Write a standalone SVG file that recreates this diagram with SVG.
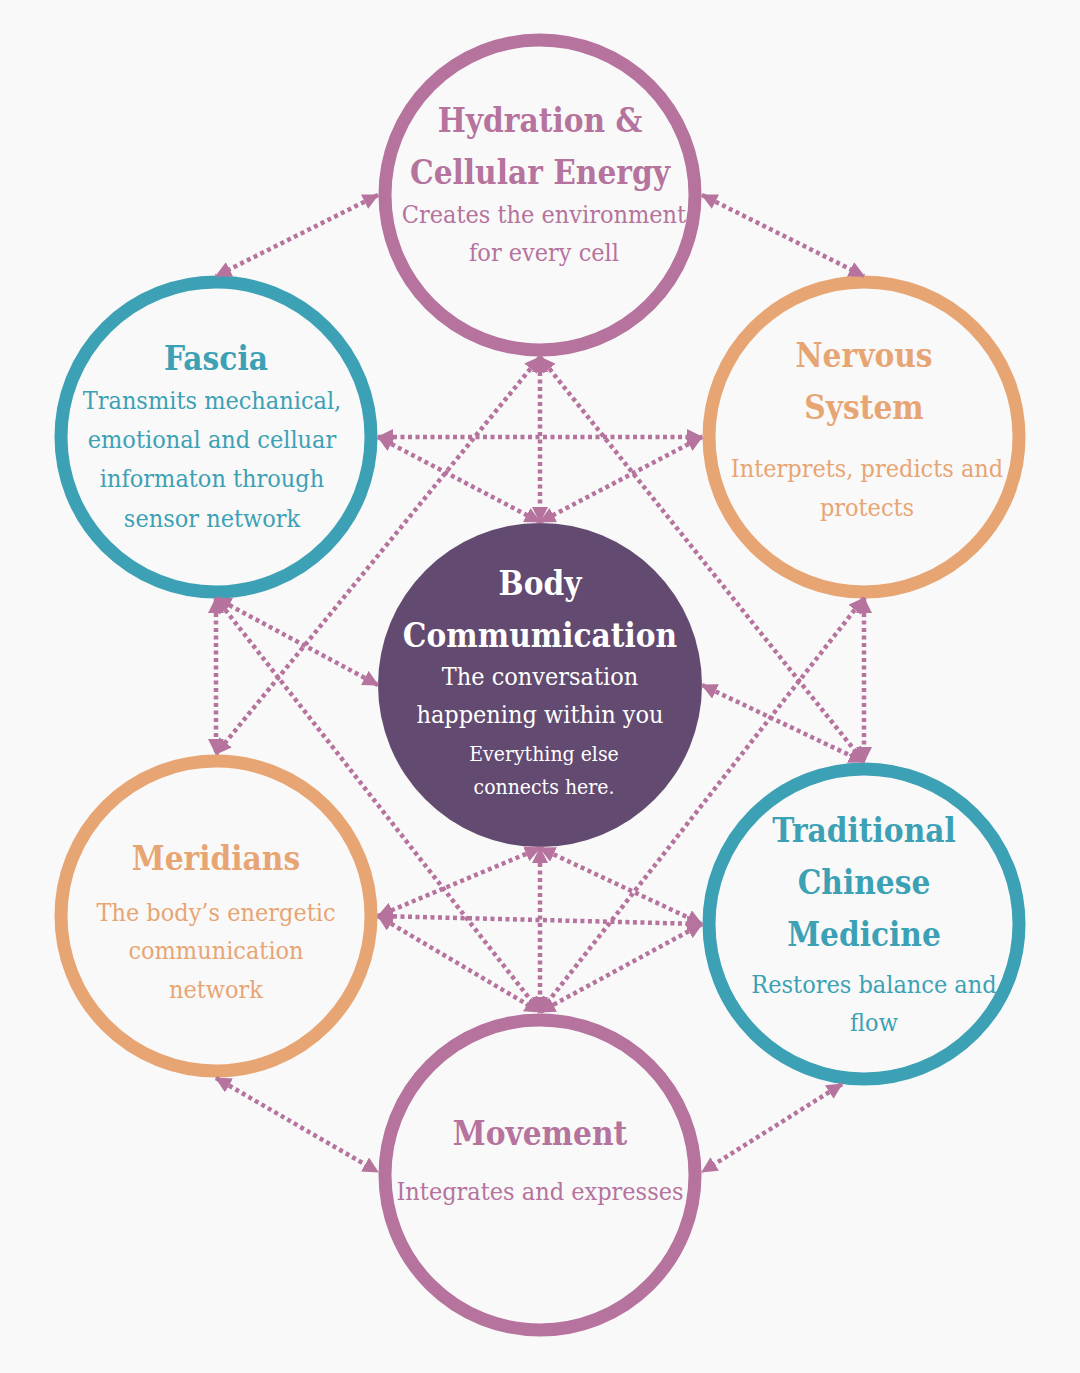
<svg xmlns="http://www.w3.org/2000/svg" width="1080" height="1373" viewBox="0 0 1080 1373">
<defs>
<style>
.ring{fill:none;stroke-width:13}
.pink{stroke:#b5739d}
.teal{stroke:#3ca1b5}
.orange{stroke:#e8a574}
.t{font-family:"DejaVu Serif Condensed","DejaVu Serif","Liberation Serif",serif;text-anchor:middle}
.h{font-weight:bold;font-size:33px}
.d{font-size:25px}
.s{font-size:21px}
.cp{fill:#b5739d}
.ct{fill:#3ca1b5}
.co{fill:#e8a574}
.cw{fill:#ffffff}
.link{fill:none;stroke:#b5739d;stroke-width:4.5;stroke-dasharray:4 3.5;marker-start:url(#ah);marker-end:url(#ah)}
</style>
<marker id="ah" markerUnits="userSpaceOnUse" markerWidth="16" markerHeight="16" refX="15" refY="8" orient="auto-start-reverse" viewBox="0 0 16 16">
<path d="M0,0 L16,8 L0,16 z" fill="#b5739d"/>
</marker>
</defs>
<rect width="1080" height="1373" fill="#f9f9f9"/>

<g id="hydration">
<circle class="ring pink" cx="540" cy="195" r="155"/>
<text class="t h cp" x="540" y="132">Hydration &amp;</text>
<text class="t h cp" x="540" y="184">Cellular Energy</text>
<text class="t d cp" x="544" y="223">Creates the environment</text>
<text class="t d cp" x="544" y="261">for every cell</text>
</g>

<g id="fascia">
<circle class="ring teal" cx="216" cy="437" r="155"/>
<text class="t h ct" x="216" y="370">Fascia</text>
<text class="t d ct" x="212" y="409">Transmits mechanical,</text>
<text class="t d ct" x="212" y="448">emotional and celluar</text>
<text class="t d ct" x="212" y="487">informaton through</text>
<text class="t d ct" x="212" y="527">sensor network</text>
</g>

<g id="nervous">
<circle class="ring orange" cx="864" cy="437" r="155"/>
<text class="t h co" x="864" y="367">Nervous</text>
<text class="t h co" x="864" y="419">System</text>
<text class="t d co" x="867" y="477">Interprets, predicts and</text>
<text class="t d co" x="867" y="516">protects</text>
</g>

<g id="body">
<circle cx="540" cy="685" r="162" fill="#634a70"/>
<text class="t h cw" x="540" y="595">Body</text>
<text class="t h cw" x="540" y="647">Commumication</text>
<text class="t d cw" x="540" y="685">The conversation</text>
<text class="t d cw" x="540" y="723">happening within you</text>
<text class="t s cw" x="544" y="761">Everything else</text>
<text class="t s cw" x="544" y="794">connects here.</text>
</g>

<g id="meridians">
<circle class="ring orange" cx="216" cy="916" r="155"/>
<text class="t h co" x="216" y="870">Meridians</text>
<text class="t d co" x="216" y="921">The body’s energetic</text>
<text class="t d co" x="216" y="959">communication</text>
<text class="t d co" x="216" y="998">network</text>
</g>

<g id="tcm">
<circle class="ring teal" cx="864" cy="924" r="155"/>
<text class="t h ct" x="864" y="842">Traditional</text>
<text class="t h ct" x="864" y="894">Chinese</text>
<text class="t h ct" x="864" y="946">Medicine</text>
<text class="t d ct" x="874" y="993">Restores balance and</text>
<text class="t d ct" x="874" y="1031">flow</text>
</g>

<g id="movement">
<circle class="ring pink" cx="540" cy="1175" r="155"/>
<text class="t h cp" x="540" y="1145">Movement</text>
<text class="t d cp" x="540" y="1200">Integrates and expresses</text>
</g>

<g id="connectors">
<line class="link" x1="378" y1="195" x2="216" y2="276"/>
<line class="link" x1="702" y1="195" x2="864" y2="276"/>
<line class="link" x1="540" y1="357" x2="540" y2="522"/>
<line class="link" x1="540" y1="357" x2="216" y2="754"/>
<line class="link" x1="540" y1="357" x2="864" y2="762"/>
<line class="link" x1="378" y1="437" x2="702" y2="437"/>
<line class="link" x1="378" y1="437" x2="540" y2="522"/>
<line class="link" x1="702" y1="437" x2="540" y2="522"/>
<line class="link" x1="216" y1="598" x2="216" y2="754"/>
<line class="link" x1="216" y1="598" x2="378" y2="685"/>
<line class="link" x1="216" y1="598" x2="540" y2="1012"/>
<line class="link" x1="864" y1="598" x2="864" y2="762"/>
<line class="link" x1="864" y1="598" x2="540" y2="1012"/>
<line class="link" x1="702" y1="685" x2="864" y2="762"/>
<line class="link" x1="540" y1="848" x2="378" y2="916"/>
<line class="link" x1="540" y1="848" x2="702" y2="924"/>
<line class="link" x1="540" y1="848" x2="540" y2="1012"/>
<line class="link" x1="378" y1="916" x2="702" y2="924"/>
<line class="link" x1="378" y1="916" x2="540" y2="1012"/>
<line class="link" x1="702" y1="924" x2="540" y2="1012"/>
<line class="link" x1="216" y1="1078" x2="378" y2="1172"/>
<line class="link" x1="842" y1="1084" x2="702" y2="1172"/>
</g>
</svg>
